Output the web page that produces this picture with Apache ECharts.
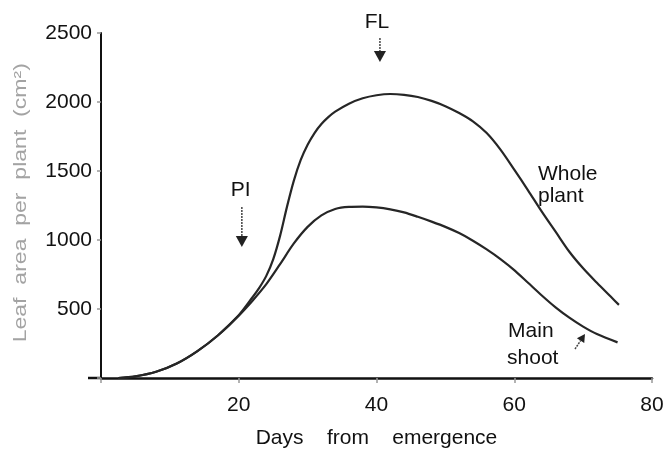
<!DOCTYPE html>
<html>
<head>
<meta charset="utf-8">
<script src="https://cdn.jsdelivr.net/npm/echarts@6/dist/echarts.min.js"></script>
<style>
html,body{margin:0;padding:0;background:#fff;}
#main{width:667px;height:454px;}
</style>
</head>
<body>
<div id="main"></div>
<script>
// ---- data ----
var xTicks = [20, 40, 60, 80];
var yTicks = [500, 1000, 1500, 2000, 2500];

var wholeDays   = [2.5, 5, 8, 11, 14, 17, 20, 22, 23, 24, 25, 26, 27, 28, 29, 30, 31, 32, 33, 34, 36, 38, 40, 42, 44, 46, 48, 50, 52, 54, 56, 58, 60, 62, 64, 66, 68, 70, 72, 74, 75.2];
var wholeValues = [0, 12, 45, 105, 195, 310, 455, 585, 655, 740, 860, 1030, 1240, 1430, 1580, 1690, 1775, 1840, 1890, 1930, 1988, 2027, 2049, 2058, 2052, 2036, 2008, 1970, 1920, 1860, 1775, 1655, 1510, 1360, 1205, 1060, 915, 795, 690, 590, 530];

var mainDays   = [2.5, 5, 8, 11, 14, 17, 20, 22, 24, 26, 28, 30, 32, 34, 36, 38, 40, 42, 44, 46, 48, 50, 52, 54, 56, 58, 60, 62, 64, 66, 68, 70, 72, 75];
var mainValues = [0, 12, 45, 105, 195, 310, 452, 560, 680, 825, 975, 1095, 1178, 1225, 1240, 1242, 1236, 1222, 1200, 1168, 1133, 1095, 1050, 995, 932, 862, 782, 690, 598, 512, 437, 372, 318, 258];

// annotation texts: [text, day, value, align]
var noteTexts = [
  ['FL', 40.06, 2580, 'center'],
  ['PI', 20.28, 1362, 'center'],
  ['Whole', 63.45, 1478, 'left'],
  ['plant', 63.45, 1315, 'left'],
  ['Main', 59.1, 337, 'left'],
  ['shoot', 58.95, 141, 'left']
];
// arrows: [fromDay, fromValue, toDay, toValue, headLength]
var noteArrows = [
  [40.5, 2464, 40.5, 2290, 11],
  [20.45, 1239, 20.45, 949, 11],
  [68.82, 210, 70.27, 319, 8]
];
var xTitle = 'Days    from    emergence';
var yTitle = 'Leaf  area  per  plant  (cm²)';

function pairs(xs, ys) { return xs.map(function (x, i) { return [x, ys[i]]; }); }

var chart = echarts.init(document.getElementById('main'), null, {renderer: 'canvas'});
var font = 'Liberation Sans, Arial, sans-serif';
var option = {
  animation: false,
  backgroundColor: '#fff',
  grid: {left: 101, right: 15, top: 33, bottom: 76, containLabel: false},
  xAxis: {
    type: 'value', min: 0, max: 80, interval: 20,
    name: xTitle, nameLocation: 'middle', nameGap: 50,
    nameTextStyle: {color: '#111', fontSize: 21, fontFamily: font},
    axisLine: {lineStyle: {color: '#111', width: 2.5}},
    axisTick: {show: true, length: 5, inside: false, lineStyle: {color: '#999', width: 1.5}},
    axisLabel: {color: '#111', fontSize: 21, fontFamily: font, margin: 17,
      formatter: function (v) { return xTicks.indexOf(v) >= 0 ? String(v) : ''; }},
    splitLine: {show: false}
  },
  yAxis: {
    type: 'value', min: 0, max: 2500, interval: 500,
    axisLine: {show: true, lineStyle: {color: '#111', width: 2}},
    axisTick: {show: true, length: 4, lineStyle: {color: '#999', width: 1.5}},
    axisLabel: {color: '#111', fontSize: 21, fontFamily: font, margin: 9,
      formatter: function (v) { return yTicks.indexOf(v) >= 0 ? String(v) : ''; }},
    splitLine: {show: false}
  },
  series: [
    {name: 'Whole plant', type: 'line', smooth: 0.3, showSymbol: false, symbol: 'none',
     lineStyle: {color: '#262626', width: 2.2}, data: pairs(wholeDays, wholeValues)},
    {name: 'Main shoot', type: 'line', smooth: 0.3, showSymbol: false, symbol: 'none',
     lineStyle: {color: '#262626', width: 2.2}, data: pairs(mainDays, mainValues)}
  ]
};
chart.setOption(option);

var els = [];
noteTexts.forEach(function (t) {
  var p = chart.convertToPixel({gridIndex: 0}, [t[1], t[2]]);
  els.push({type: 'text', x: p[0], y: p[1],
    style: {text: t[0], fill: '#111', font: '21px ' + font, textAlign: t[3], textVerticalAlign: 'middle'}});
});
noteArrows.forEach(function (a) {
  var p0 = chart.convertToPixel({gridIndex: 0}, [a[0], a[1]]);
  var p1 = chart.convertToPixel({gridIndex: 0}, [a[2], a[3]]);
  var dx = p1[0] - p0[0], dy = p1[1] - p0[1];
  var len = Math.sqrt(dx * dx + dy * dy);
  var ux = dx / len, uy = dy / len;
  var hl = a[4], hw = hl * 0.55;
  var bx = p1[0] - ux * hl, by = p1[1] - uy * hl;
  els.push({type: 'line', shape: {x1: p0[0], y1: p0[1], x2: bx, y2: by},
    style: {stroke: '#444', lineWidth: 1.5, lineDash: [2, 1]}});
  els.push({type: 'polygon', shape: {points: [[p1[0], p1[1]], [bx - uy * hw, by + ux * hw], [bx + uy * hw, by - ux * hw]]},
    style: {fill: '#222'}});
});
// y-axis title (rotated, widened to match the spaced-out lettering)
var yMid = chart.convertToPixel({gridIndex: 0}, [0, 1270]);
els.push({type: 'text', x: 21, y: yMid[1], rotation: Math.PI / 2, scaleX: 1.28,
  style: {text: yTitle, fill: '#a3a3a3', font: '18px ' + font, textAlign: 'center', textVerticalAlign: 'middle'}});
// short extension of the x-axis baseline to the left of the y-axis
var o = chart.convertToPixel({gridIndex: 0}, [0, 0]);
els.push({type: 'line', shape: {x1: o[0] - 13, y1: o[1], x2: o[0], y2: o[1]}, style: {stroke: '#111', lineWidth: 2.5}});
chart.setOption({graphic: els});
</script>
</body>
</html>
